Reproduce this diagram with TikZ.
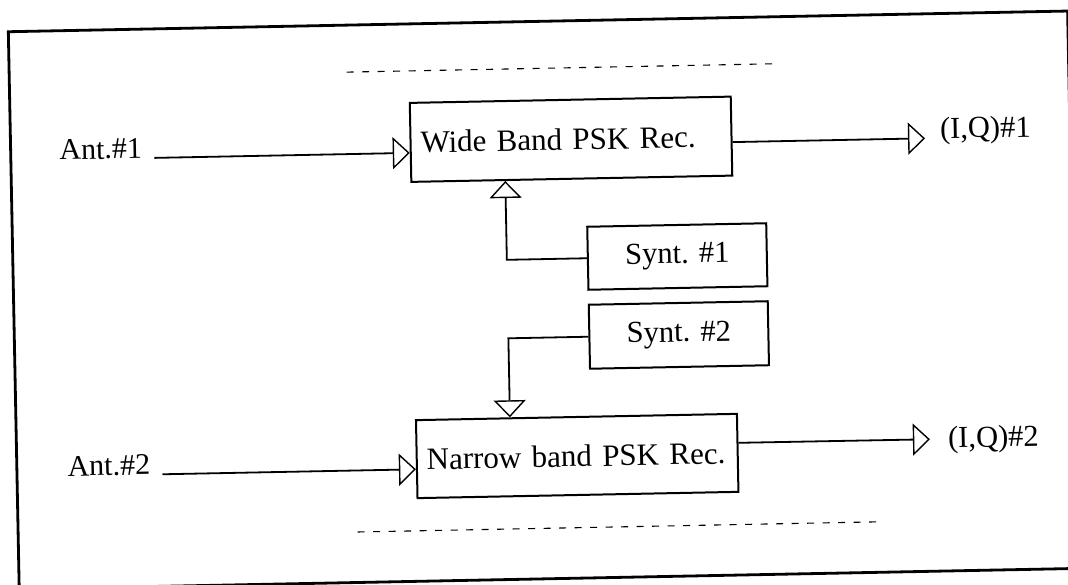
\documentclass[tikz,border=0pt]{standalone}
\usepackage{fontspec}
\setmainfont{Liberation Serif}
\usetikzlibrary{arrows.meta}

\tikzset{
  rec/.style={draw, line width=2pt, minimum width=321pt, minimum height=79pt,
    text width=301pt, inner xsep=10pt, align=left, font=\fontsize{31}{36}\selectfont},
  synt/.style={draw, line width=2pt, minimum width=179pt, minimum height=63pt,
    font=\fontsize{30.5}{36}\selectfont},
  ant/.style={anchor=base east, inner xsep=12pt, inner ysep=0pt, font=\fontsize{30}{36}\selectfont},
  iq/.style={anchor=base west, inner sep=0pt, font=\fontsize{30.5}{36}\selectfont},
  sig/.style={line width=1.8pt, -{Triangle[open, length=17pt, width=32pt, line width=1.4pt]}},
  outerframe/.style={line width=2.8pt},
  dashrule/.style={line width=1.1pt, dash pattern=on 7pt off 8.5pt},
}

\begin{document}
\begin{tikzpicture}[x=1pt, y=-1pt]
\clip (0,0) rectangle (1068,584);
\begin{scope}[rotate around={1.12:(534,292)}, transform shape]
% outer frame and the two dashed rules
\draw[outerframe] (13.5,21.5) rectangle (1073,579);
\draw[dashrule] (351,68.5) -- (784,68.5);
\draw[dashrule] (353,528.5) -- (875,528.5);

% receivers
\node[rec] (wide) at (574,140) {Wide Band PSK Rec.};
\node[rec, minimum height=78pt] (narrow) at (574,456.8) {Narrow band PSK Rec.};
% synthesizers
\node[synt] (synt1) at (678,259.3) {Synt. \#1};
\node[synt, minimum height=64pt] (synt2) at (678,337.8) {Synt. \#2};

% antennas and outputs
\node[ant] (ant1) at (157,150.5) {Ant.\#1};
\node[ant] (ant2) at (159,467) {Ant.\#2};
\coordinate (tip1) at (928,146);
\coordinate (tip2) at (927,447);
\node[iq] (iq1) at (943,146.5) {(I,Q)\#1};
\node[iq] (iq2) at (945,455.7) {(I,Q)\#2};

\draw[sig] (ant1.base east) -- (ant1.base east -| wide.west);
\draw[sig] (ant2.base east) -- (ant2.base east -| narrow.west);
\draw[sig] ([yshift=-6pt]wide.east) -- (tip1);
\draw[sig] ([yshift=10pt]narrow.east) -- (tip2);
\draw[sig] (synt1.west) -| ([xshift=95pt]wide.south west);
\draw[sig] (synt2.west) -| ([xshift=95pt]narrow.north west);
\end{scope}
\end{tikzpicture}
\end{document}
